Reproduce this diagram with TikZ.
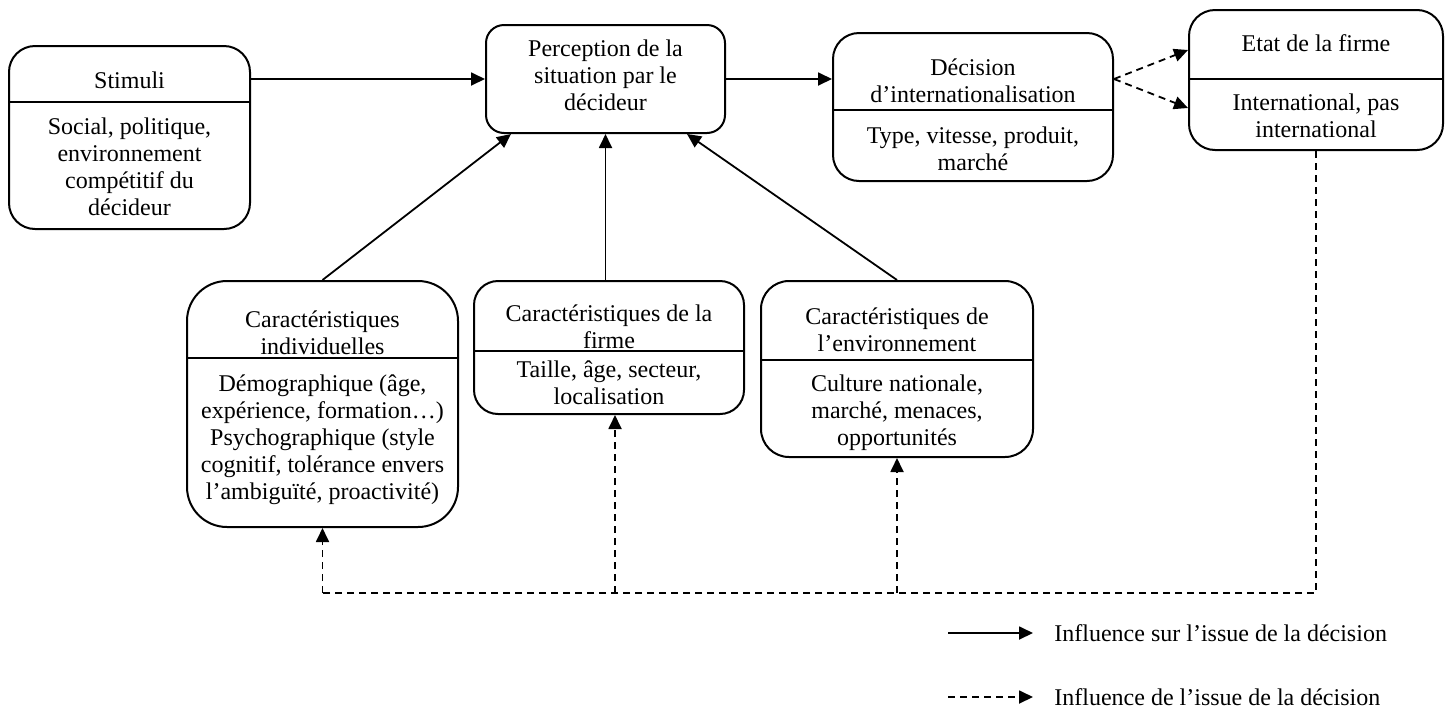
\documentclass[tikz,border=0pt]{standalone}
\usepackage{fontspec}
\setmainfont{Liberation Serif}
\usetikzlibrary{arrows.meta,positioning}
\tikzset
{
    bloc/.style      = {rectangle, rounded corners=#1, draw=black, line width=1pt, inner sep=0pt},
    bloc/.default    = 12pt,
    texte/.style     = {align=center, inner sep=0pt, font=\fontsize{12}{13.5}\selectfont},
    arrow/.style     = {line width=0.9pt, -{Triangle[length=7pt,width=6.5pt]}},
    dasharrow/.style = {arrow, dash pattern=on 3.5pt off 2.5pt},
    dashline/.style  = {line width=0.9pt, dash pattern=on 3.5pt off 2.5pt},
    divider/.style   = {line width=1pt}
}

\begin{document}
\begin{tikzpicture}[x=0.5pt, y=-0.5pt]
	 \newcommand\BASY{593}
	 \useasboundingbox (0,0) rectangle (1446,713);

	 % boxes
	 \node (stim)  [bloc=13pt, minimum width=120.5pt, minimum height=91.5pt]  at (129.5, 137.5) {};
	 \node (perc)  [bloc=9pt,  minimum width=119.5pt, minimum height=54pt]    at (605.5, 79)    {};
	 \node (dec)   [bloc=13pt, minimum width=140pt,   minimum height=74pt]    at (973, 107)     {};
	 \node (etat)  [bloc=13pt, minimum width=127pt,   minimum height=70pt]    at (1316, 80)     {};
	 \node (ind)   [bloc=20pt, minimum width=135.5pt, minimum height=123pt]   at (322.5, 404)   {};
	 \node (firme) [bloc=12pt, minimum width=135pt,   minimum height=66.5pt]  at (609, 347.5)   {};
	 \node (env)   [bloc=14pt, minimum width=136pt,   minimum height=88pt]    at (897, 369)     {};

	 % dividers
	 \draw[divider] (stim.west |- 0,102)  -- (stim.east |- 0,102);
	 \draw[divider] (dec.west |- 0,110)   -- (dec.east |- 0,110);
	 \draw[divider] (etat.west |- 0,79)   -- (etat.east |- 0,79);
	 \draw[divider] (ind.west |- 0,358)   -- (ind.east |- 0,358);
	 \draw[divider] (firme.west |- 0,351) -- (firme.east |- 0,351);
	 \draw[divider] (env.west |- 0,360)   -- (env.east |- 0,360);

	 % texts
	 \node (stimh)  [texte] at (129.5, 80)   {Stimuli};
	 \node (stimb)  [texte] at (129.5, 166.5) {Social, politique,\\ environnement\\ compétitif du\\ décideur};
	 \node (perct)  [texte] at (605.5, 75)   {Perception de la\\ situation par le\\ décideur};
	 \node (dech)   [texte] at (973, 81)     {Décision\\ d’internationalisation};
	 \node (decb)   [texte] at (973, 148.5)  {Type, vitesse, produit,\\ marché};
	 \node (etath)  [texte] at (1316, 43)    {Etat de la firme};
	 \node (etatb)  [texte] at (1316, 116)   {International, pas\\ international};
	 \node (indh)   [texte] at (322.5, 333)  {Caractéristiques\\ individuelles};
	 \node (indb)   [texte] at (322.5, 439.5) {Démographique (âge,\\ expérience, formation…)\\ Psychographique (style\\ cognitif, tolérance envers\\ l’ambiguïté, proactivité)};
	 \node (firmeh) [texte] at (609, 327)    {Caractéristiques de la\\ firme};
	 \node (firmeb) [texte] at (609, 383)    {Taille, âge, secteur,\\ localisation};
	 \node (envh)   [texte] at (897, 330)    {Caractéristiques de\\ l’environnement};
	 \node (envb)   [texte] at (897, 412.5)  {Culture nationale,\\ marché, menaces,\\ opportunités};

	 % bottom dashed line
	 \coordinate (bi) at (ind.south |- 0,\BASY);
	 \coordinate (bf) at ([xshift=3pt]firme.south |- 0,\BASY);
	 \coordinate (be) at (env.south |- 0,\BASY);
	 \coordinate (bt) at (etat.south |- 0,\BASY);

	 % legend
	 \coordinate (la) at (948, 633);
	 \coordinate (lb) at (1033, 633);
	 \coordinate (lc) at (948, 697);
	 \coordinate (ld) at (1033, 697);
	 \node (lt1) [texte, right=10.5pt of lb] {Influence sur l’issue de la décision};
	 \node (lt2) [texte, right=10.5pt of ld] {Influence de l’issue de la décision};

	 \draw[arrow] (stim.east |- perc.west) -- (perc.west);
	 \draw[arrow] (perc.east) -- (perc.east -| dec.west);
	 \draw[arrow] (ind.north) -- ([xshift=13pt]perc.south west);
	 \draw[arrow] (firme.north -| perc.south) -- (perc.south);
	 \draw[arrow] (env.north) -- ([xshift=-19.5pt]perc.south east);
	 \draw[dasharrow] ([yshift=14pt]dec.east) -- ([yshift=15pt]etat.west);
	 \draw[dasharrow] ([yshift=14pt]dec.east) -- ([yshift=-14pt]etat.west);
	 \draw[dashline]  (etat.south) -- (bt) -- (bi);
	 \draw[dasharrow] (bi) -- (ind.south);
	 \draw[dasharrow] (bf) -- (bf |- firme.south);
	 \draw[dasharrow] (be) -- (env.south);
	 \draw[arrow]     (la) -- (lb);
	 \draw[dasharrow] (lc) -- (ld);
\end{tikzpicture}
\end{document}
